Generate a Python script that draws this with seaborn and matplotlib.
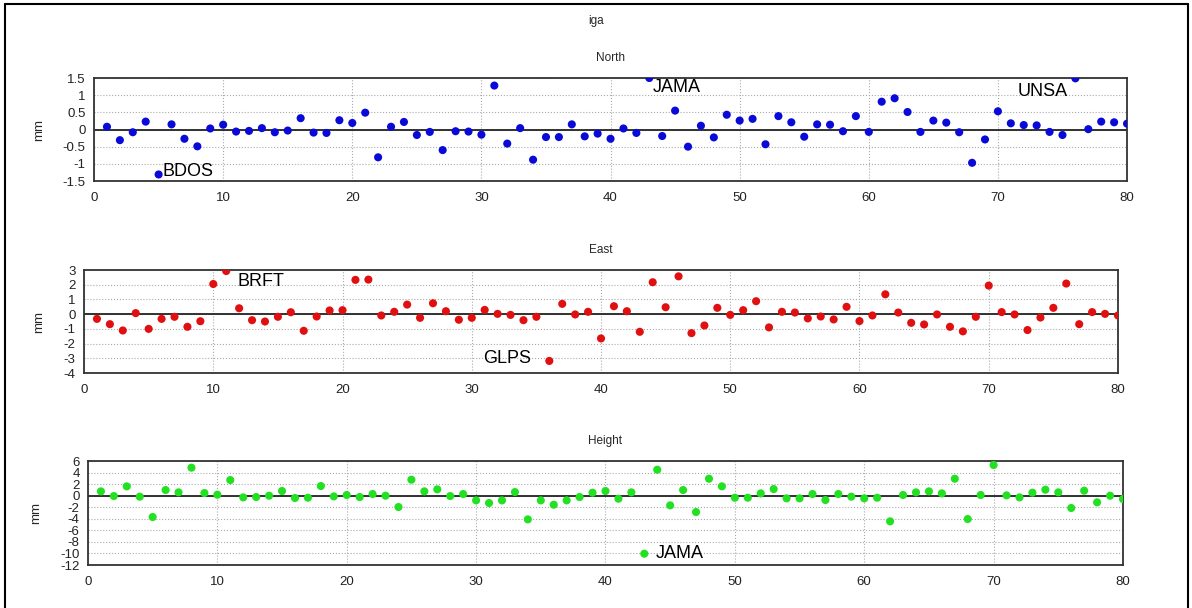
import matplotlib
matplotlib.use("Agg")
import matplotlib.pyplot as plt
import numpy as np
import pandas as pd
import seaborn as sns
from matplotlib.lines import Line2D

# === DATA === #
stations = list(range(1, 81))

north = [
    0.08, -0.31, -0.08, 0.23, -1.31, 0.15, -0.27, -0.49, 0.03, 0.14,
    -0.06, -0.04, 0.04, -0.08, -0.03, 0.33, -0.09, -0.10, 0.27, 0.19,
    0.49, -0.81, 0.08, 0.22, -0.16, -0.07, -0.60, -0.05, -0.06, -0.15,
    1.28, -0.41, 0.04, -0.88, -0.22, -0.22, 0.15, -0.20, -0.12, -0.27,
    0.03, -0.10, 1.50, -0.19, 0.55, -0.50, 0.11, -0.23, 0.43, 0.26,
    0.31, -0.43, 0.39, 0.21, -0.21, 0.15, 0.14, -0.05, 0.39, -0.07,
    0.81, 0.91, 0.51, -0.07, 0.26, 0.20, -0.08, -0.97, -0.29, 0.53,
    0.18, 0.13, 0.12, -0.07, -0.16, 1.49, 0.01, 0.23, 0.21, 0.17,
]
east = [
    -0.32, -0.68, -1.11, 0.07, -1.00, -0.32, -0.18, -0.86, -0.48, 2.05,
    2.93, 0.40, -0.41, -0.50, -0.18, 0.13, -1.13, -0.16, 0.25, 0.27,
    2.33, 2.35, -0.09, 0.16, 0.65, -0.25, 0.74, 0.20, -0.38, -0.25,
    0.29, 0.02, -0.05, -0.41, -0.18, -3.18, 0.70, -0.02, 0.16, -1.65,
    0.54, 0.20, -1.20, 2.17, 0.47, 2.57, -1.29, -0.77, 0.43, -0.05,
    0.27, 0.88, -0.90, 0.16, 0.11, -0.29, -0.16, -0.36, 0.50, -0.47,
    -0.09, 1.35, 0.11, -0.59, -0.70, -0.02, -0.86, -1.17, -0.18, 1.94,
    0.14, -0.02, -1.08, -0.23, 0.43, 2.08, -0.68, 0.14, 0.02, -0.09,
]
height = [
    0.75, -0.06, 1.62, -0.17, -3.69, 0.98, 0.58, 4.85, 0.46, 0.17,
    2.71, -0.29, -0.23, 0.00, 0.81, -0.40, -0.35, 1.67, -0.12, 0.12,
    -0.23, 0.29, 0.00, -1.96, 2.77, 0.75, 1.10, -0.06, 0.29, -0.81,
    -1.27, -0.81, 0.63, -4.10, -0.81, -1.56, -0.81, -0.23, 0.52, 0.81,
    -0.52, 0.58, -10.04, 4.50, -1.67, 0.98, -2.83, 2.94, 1.62, -0.35,
    -0.35, 0.40, 1.15, -0.46, -0.46, 0.29, -0.75, 0.29, -0.17, -0.46,
    -0.35, -4.44, 0.12, 0.58, 0.75, 0.40, 2.94, -4.04, 0.12, 5.31,
    0.06, -0.29, 0.52, 1.04, 0.58, -2.13, 0.87, -1.15, 0.00, -0.58,
]

components = ["North", "East", "Height"]
colors = ["#0a0ad8", "#e01010", "#22e022"]
y_ticks = [np.arange(-1.5, 1.51, 0.5), np.arange(-4, 3.1, 1), np.arange(-12, 6.1, 2)]
y_ticklabels = [
    ["-1.5", "-1", "-0.5", "0", "0.5", "1", "1.5"],
    ["-4", "-3", "-2", "-1", "0", "1", "2", "3"],
    ["-12", "-10", "-8", "-6", "-4", "-2", "0", "2", "4", "6"],
]
# outlier labels (station name, x, y) per panel
labels = [
    [("BDOS", 5.3, -1.21), ("JAMA", 43.3, 1.21), ("UNSA", 71.5, 1.10)],
    [("BRFT", 11.9, 2.25), ("GLPS", 30.9, -3.02)],
    [("JAMA", 43.9, -9.98)],
]

# === SETUP === #
sns.set_theme(style="white")
plt.rcParams["font.family"] = ["Liberation Sans", "DejaVu Sans"]

df = pd.DataFrame({"station": stations, "North": north, "East": east, "Height": height})

fig = plt.figure(figsize=(11.92, 6.08), dpi=100)
positions = [
    [0.0789, 0.7023, 0.8666, 0.1694],
    [0.0705, 0.3865, 0.8674, 0.1694],
    [0.0738, 0.0707, 0.8683, 0.1710],
]

for i, comp in enumerate(components):
    ax = fig.add_axes(positions[i])
    sns.scatterplot(data=df, x="station", y=comp, color=colors[i], s=34,
                    edgecolor="none", ax=ax, zorder=3)
    ax.axhline(0, color="#222222", lw=1.3, zorder=2)
    ax.set_xlim(0, 80)
    ax.set_ylim(y_ticks[i][0], y_ticks[i][-1])
    ax.set_xticks(range(0, 81, 10))
    ax.set_yticks(y_ticks[i])
    ax.set_yticklabels(y_ticklabels[i])
    ax.grid(True, color="#aaaaaa", ls=":", lw=0.8)
    ax.tick_params(direction="in", length=4, labelsize=9.5, colors="#222222")
    ax.tick_params(axis="y", pad=6)
    ax.tick_params(axis="x", pad=8)
    for sp in ax.spines.values():
        sp.set_color("#333333")
        sp.set_linewidth(1.3)
    ax.set_xlabel("")
    ax.set_ylabel("mm", fontsize=9.5, labelpad=13)
    ax.set_title(comp, fontsize=8.5, pad=12)
    for name, tx, ty in labels[i]:
        ax.text(tx, ty, name, fontsize=13, va="center", ha="left", color="black", zorder=4)

fig.text(0.5, 0.965, "iga", ha="center", va="center", fontsize=8.5)
# frame of the original window: left and top edges
fig.add_artist(Line2D([0.004, 0.004], [0.0, 0.993], transform=fig.transFigure, color="black", lw=1.5))
fig.add_artist(Line2D([0.004, 0.997], [0.993, 0.993], transform=fig.transFigure, color="black", lw=1.5))
fig.add_artist(Line2D([0.997, 0.997], [0.0, 0.993], transform=fig.transFigure, color="black", lw=1.5))

fig.savefig("out.png", dpi=100)
plt.close(fig)
